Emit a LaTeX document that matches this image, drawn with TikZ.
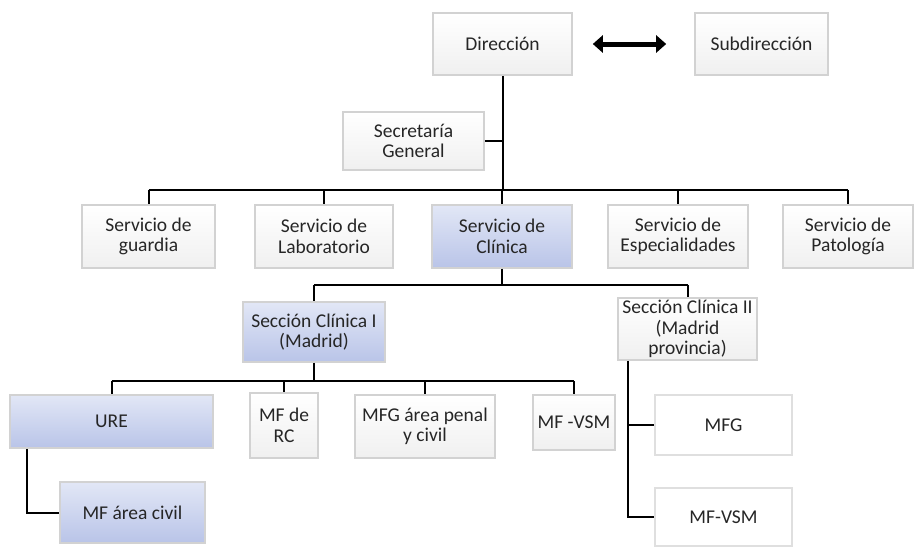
\documentclass[tikz,border=0pt]{standalone}
\usepackage{fontspec}
\setmainfont{Carlito}
\usepackage{xcolor}
\usepackage{tikz}
\usetikzlibrary{arrows.meta}
\usetikzlibrary{calc}
\definecolor{boxline}{HTML}{D2D2D2}
\definecolor{bluetop}{HTML}{E2E7F6}
\definecolor{bluebot}{HTML}{B9C4E8}
\definecolor{inktext}{HTML}{262626}
\tikzset{
    orgnode/.style = {align=center, inner sep=0pt, text centered, text=inktext, font=\fontsize{19.5}{20.5}\selectfont},
    white_node/.style = {orgnode, rectangle, draw=boxline, line width=1.6pt, top color=white, bottom color=black!6},
    blue_node/.style = {orgnode, rectangle, draw=boxline, line width=1.6pt, top color=bluetop, bottom color=bluebot},
    plain_node/.style = {orgnode, rectangle, draw=boxline!70, line width=1.2pt, fill=white},
    link/.style = {draw=black, line width=2pt},
    both_way/.style = {line width=5pt, {Triangle[length=10pt,width=17pt]}-{Triangle[length=10pt,width=17pt]}, shorten <=20pt, shorten >=28pt}
}

\begin{document}
\begin{tikzpicture}[x=1pt, y=-1pt]
    \useasboundingbox (0,0) rectangle (915,546);
    \node [white_node, minimum width=139pt, minimum height=62pt] (dir) at (502.5,44) {Dirección};
    \node [white_node, minimum width=133pt, minimum height=62pt] (subdir) at (761.5,44) {Subdirección};
    \node [white_node, minimum width=141pt, minimum height=58pt] (secgen) at (413.5,141) {Secretaría\\General};

    \node [white_node, minimum width=133pt, minimum height=63pt] (guardia) at (148.5,236.5) {Servicio de\\guardia};
    \node [white_node, minimum width=138pt, minimum height=63pt] (lab) at (324,236.5) {Servicio de\\Laboratorio};
    \node [blue_node, minimum width=140pt, minimum height=63pt] (clin) at (502,236.5) {Servicio de\\Clínica};
    \node [white_node, minimum width=140pt, minimum height=63pt] (esp) at (678,236.5) {Servicio de\\Especialidades};
    \node [white_node, minimum width=130pt, minimum height=63pt] (pat) at (848,236.5) {Servicio de\\Patología};

    \node [blue_node, minimum width=142pt, minimum height=60pt] (secI) at (314,332) {Sección Clínica I\\(Madrid)};
    \node [white_node, minimum width=139pt, minimum height=62pt] (secII) at (687.5,329) {Sección Clínica II\\(Madrid\\provincia)};

    \node [blue_node, minimum width=203pt, minimum height=53pt] (ure) at (111.5,421.5) {URE};
    \node [white_node, minimum width=68pt, minimum height=65pt] (mfrc) at (284,425.5) {MF de\\RC};
    \node [white_node, minimum width=140pt, minimum height=63pt] (mfgpc) at (425,426.5) {MFG área penal\\y civil};
    \node [white_node, minimum width=82pt, minimum height=55pt] (mfvsmA) at (574,422.5) {MF -VSM};
    \node [blue_node, minimum width=145pt, minimum height=61pt] (mfcivil) at (132.5,512.5) {MF área civil};
    \node [plain_node, minimum width=137pt, minimum height=60pt] (mfg) at (723.5,425) {MFG};
    \node [plain_node, minimum width=137pt, minimum height=58pt] (mfvsmB) at (723.5,517) {MF-VSM};

    \draw [both_way] (dir.east) -- (subdir.west);

    \coordinate (busA) at ($(dir.south)+(0,114)$);
    \draw [link] (dir.south) -- (busA);
    \draw [link] (secgen.east) -- (secgen.east -| dir.south);
    \draw [link] (busA -| guardia.north) -- (busA -| pat.north);
    \foreach \n in {guardia,lab,clin,esp,pat}
        \draw [link] (busA -| \n.north) -- (\n.north);

    \coordinate (busB) at ($(clin.south)+(0,16)$);
    \draw [link] (clin.south) -- (busB);
    \draw [link] (busB -| secI.north) -- (busB -| secII.north);
    \draw [link] (busB -| secI.north) -- (secI.north);
    \draw [link] (busB -| secII.north) -- (secII.north);

    \coordinate (busC) at ($(secI.south)+(0,18)$);
    \draw [link] (secI.south) -- (busC);
    \draw [link] (busC -| ure.north) -- (busC -| mfvsmA.north);
    \foreach \n in {ure,mfrc,mfgpc,mfvsmA}
        \draw [link] (busC -| \n.north) -- (\n.north);

    \draw [link] ([xshift=-85pt]ure.south) |- (mfcivil.west);
    \draw [link] ([xshift=-60pt]secII.south) |- (mfvsmB.west);
    \draw [link] ([xshift=-60pt]secII.south |- mfg.west) -- (mfg.west);
\end{tikzpicture}
\end{document}
